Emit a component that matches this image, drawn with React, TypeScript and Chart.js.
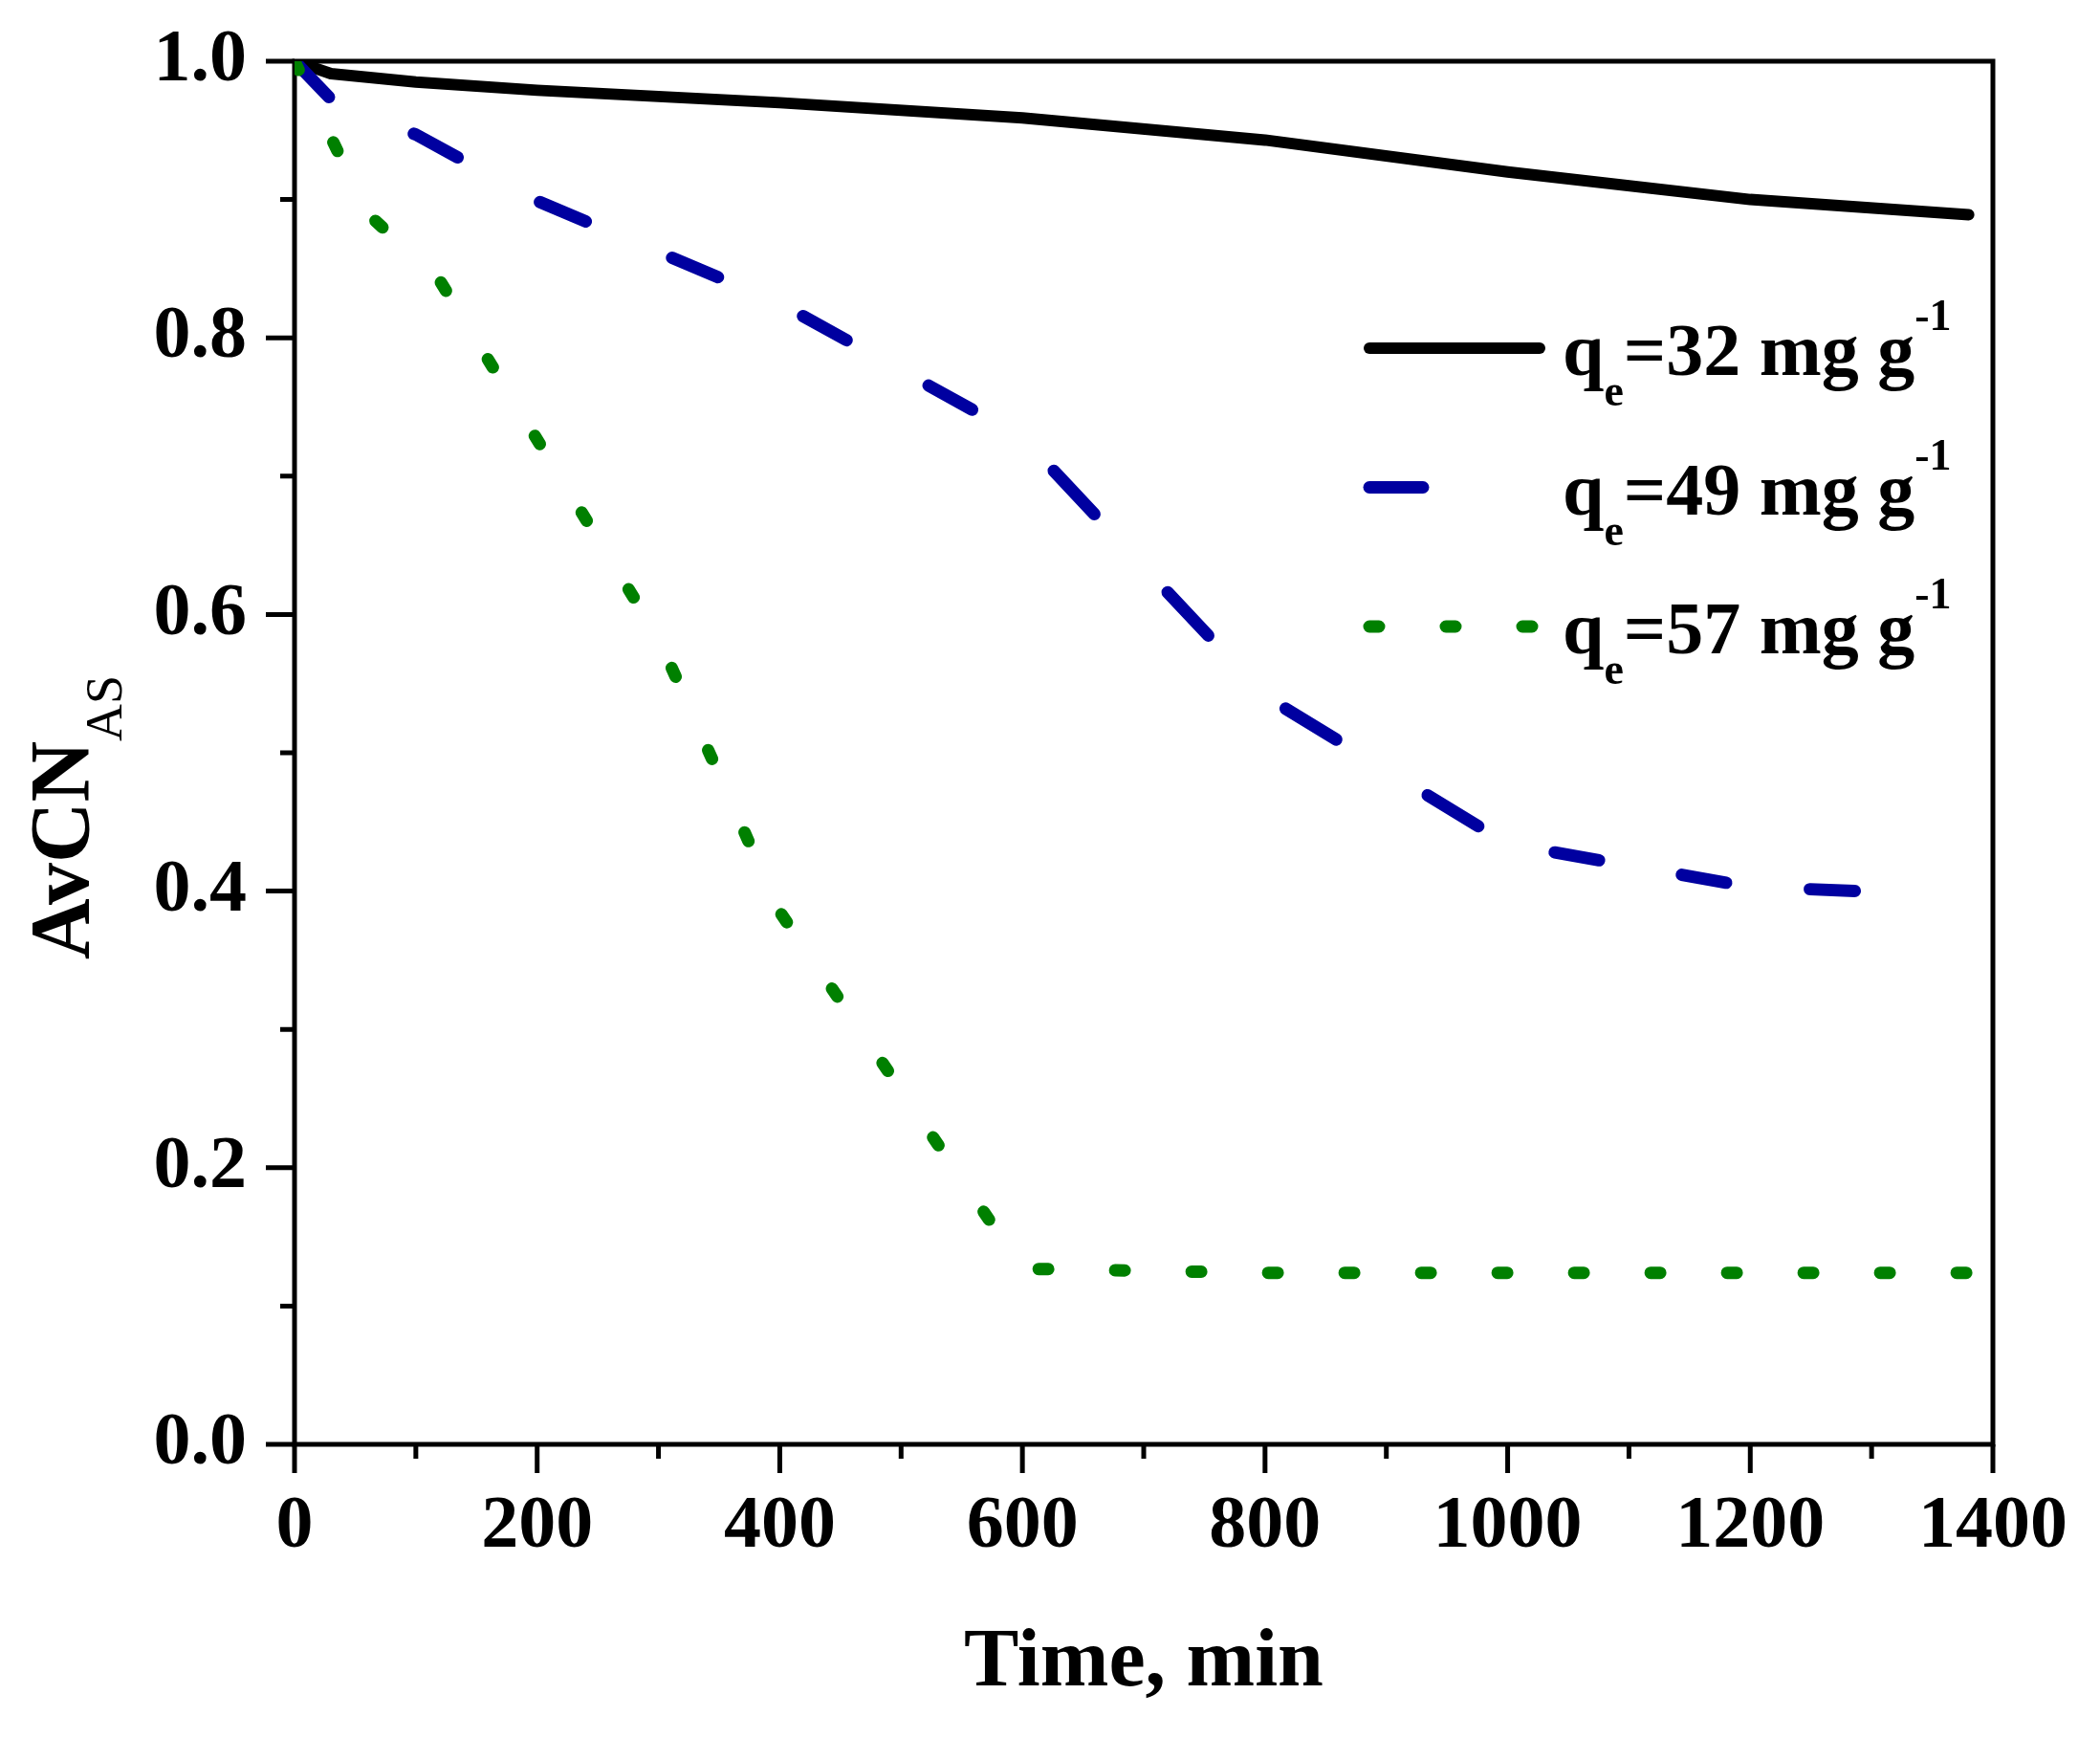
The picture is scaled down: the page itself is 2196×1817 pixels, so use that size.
import { useEffect, useRef } from "react";
import { Chart, registerables } from "chart.js";

Chart.register(...registerables);

// time, min
const blackTime = [0, 30, 100, 200, 400, 600, 800, 1000, 1200, 1380];
const blackValue = [1.0, 0.991, 0.985, 0.979, 0.97, 0.959, 0.943, 0.92, 0.9, 0.889];

const blueTime = [0, 36, 100, 200, 400, 600, 800, 1000, 1200, 1290];
const blueValue = [1.0, 0.967, 0.947, 0.899, 0.825, 0.728, 0.541, 0.434, 0.403, 0.4];

const greenTime = [0, 60, 120, 300, 400, 600, 800, 1000, 1200, 1380];
const greenValue = [1.0, 0.89, 0.841, 0.583, 0.385, 0.127, 0.124, 0.124, 0.124, 0.124];

const seriesNames = ["32", "49", "57"]; // q_e, mg g-1

const xMajor = [0, 200, 400, 600, 800, 1000, 1200, 1400];
const xMinor = [100, 300, 500, 700, 900, 1100, 1300];
const yMajor = [0, 0.2, 0.4, 0.6, 0.8, 1.0];
const yMinor = [0.1, 0.3, 0.5, 0.7, 0.9];

const FONT = '"Liberation Serif", "Times New Roman", serif';
const BLACK = "#000000";
const BLUE = "#0000A0";
const GREEN = "#008000";

const toPoints = (xs: number[], ys: number[]) => xs.map((x, i) => ({ x, y: ys[i] }));

// the original figure was stretched, so its dash spacing changes along the curve
const blueDash = (x: number) =>
  x < 600 ? { dash: [52, 98], offset: 0 } : x < 1000 ? { dash: [62, 112], offset: 126 } : { dash: [47, 88], offset: 85 };
const greenDash = (x: number) => (x < 600 ? { dash: [10, 84], offset: 0 } : { dash: [10, 70], offset: 63 });

// frame and tick marks, under the data lines
const framePlugin = {
  id: "frame",
  beforeDatasetsDraw(chart: any) {
    const { ctx, chartArea: a, scales } = chart;
    const xs = scales.x;
    const ys = scales.y;
    ctx.save();
    ctx.strokeStyle = "#000";
    ctx.lineWidth = 5;
    ctx.lineCap = "butt";
    ctx.strokeRect(a.left, a.top, a.right - a.left, a.bottom - a.top);
    ctx.beginPath();
    xMajor.forEach((v) => {
      const px = xs.getPixelForValue(v);
      ctx.moveTo(px, a.bottom);
      ctx.lineTo(px, a.bottom + 30);
    });
    xMinor.forEach((v) => {
      const px = xs.getPixelForValue(v);
      ctx.moveTo(px, a.bottom);
      ctx.lineTo(px, a.bottom + 15);
    });
    yMajor.forEach((v) => {
      const py = ys.getPixelForValue(v);
      ctx.moveTo(a.left, py);
      ctx.lineTo(a.left - 30, py);
    });
    yMinor.forEach((v) => {
      const py = ys.getPixelForValue(v);
      ctx.moveTo(a.left, py);
      ctx.lineTo(a.left - 15, py);
    });
    ctx.stroke();
    ctx.restore();
  },
};

type Part = { text: string; size: number; weight: string; dy: number };

const drawParts = (ctx: CanvasRenderingContext2D, x: number, y: number, parts: Part[]) => {
  let cx = x;
  parts.forEach((p) => {
    ctx.font = `${p.weight} ${p.size}px ${FONT}`;
    ctx.fillText(p.text, cx, y + p.dy);
    cx += ctx.measureText(p.text).width;
  });
};

// legend with sub/superscripts and the rotated y title
const textPlugin = {
  id: "richText",
  afterDraw(chart: any) {
    const { ctx } = chart;
    ctx.save();
    ctx.fillStyle = "#000";
    ctx.textBaseline = "alphabetic";
    ctx.textAlign = "left";

    const legendDash = [[], [56, 400], [10, 70]];
    const rowY = [364, 509.5, 655];
    chart.data.datasets.forEach((ds: any, i: number) => {
      const y = rowY[i];
      ctx.save();
      ctx.strokeStyle = ds.borderColor;
      ctx.lineWidth = ds.borderWidth;
      ctx.lineCap = "round";
      ctx.setLineDash(legendDash[i]);
      ctx.beginPath();
      ctx.moveTo(1432, y);
      ctx.lineTo(1610, y);
      ctx.stroke();
      ctx.restore();
      drawParts(ctx, 1634, y + 28, [
        { text: "q", size: 78, weight: "bold", dy: 0 },
        { text: "e", size: 46, weight: "bold", dy: 32 },
        { text: `=${seriesNames[i]} mg g`, size: 78, weight: "bold", dy: 0 },
        { text: "-1", size: 46, weight: "bold", dy: -47 },
      ]);
    });

    ctx.translate(92, 1003);
    ctx.rotate(-Math.PI / 2);
    drawParts(ctx, 0, 0, [
      { text: "AvCN", size: 88, weight: "bold", dy: 0 },
      { text: "AS", size: 54, weight: "normal", dy: 35 },
    ]);
    ctx.restore();
  },
};

const noPadding = (scale: any) => {
  scale.paddingTop = 0;
  scale.paddingBottom = 0;
  scale.paddingLeft = 0;
  scale.paddingRight = 0;
};

const App = () => {
  const canvasRef = useRef<HTMLCanvasElement>(null);
  const chartRef = useRef<Chart | null>(null);

  useEffect(() => {
    if (!canvasRef.current) return;
    if (chartRef.current) chartRef.current.destroy();

    const common = {
      pointRadius: 0,
      borderCapStyle: "round" as const,
      borderJoinStyle: "round" as const,
      fill: false,
      tension: 0,
    };

    chartRef.current = new Chart(canvasRef.current, {
      type: "line",
      data: {
        datasets: [
          {
            ...common,
            label: "qe=32 mg g-1",
            data: toPoints(blackTime, blackValue),
            borderColor: BLACK,
            borderWidth: 12,
            order: 3,
          },
          {
            ...common,
            label: "qe=49 mg g-1",
            data: toPoints(blueTime, blueValue),
            borderColor: BLUE,
            borderWidth: 13,
            borderDash: [52, 98],
            segment: {
              borderDash: (c: any) => blueDash(c.p0.parsed.x).dash,
              borderDashOffset: (c: any) => blueDash(c.p0.parsed.x).offset,
            },
            order: 2,
          },
          {
            ...common,
            label: "qe=57 mg g-1",
            data: toPoints(greenTime, greenValue),
            borderColor: GREEN,
            borderWidth: 13,
            borderDash: [10, 84],
            segment: {
              borderDash: (c: any) => greenDash(c.p0.parsed.x).dash,
              borderDashOffset: (c: any) => greenDash(c.p0.parsed.x).offset,
            },
            order: 1,
          },
        ],
      },
      options: {
        responsive: false,
        animation: false,
        devicePixelRatio: 1,
        events: [],
        layout: { padding: { top: 64, right: 112, bottom: 0, left: 0 } },
        plugins: {
          legend: { display: false },
          tooltip: { enabled: false },
        },
        scales: {
          x: {
            type: "linear",
            min: 0,
            max: 1400,
            grid: { display: false, drawTicks: false },
            border: { display: false },
            ticks: {
              stepSize: 200,
              autoSkip: false,
              maxRotation: 0,
              padding: 40,
              color: "#000",
              font: { family: FONT, size: 78, weight: "bold" },
              callback: (v: any) => String(v),
            },
            title: {
              display: true,
              text: "Time, min",
              color: "#000",
              font: { family: FONT, size: 86, weight: "bold" },
              padding: { top: 0, bottom: 26 },
            },
            afterFit: (scale: any) => {
              scale.height = 307;
              noPadding(scale);
            },
          },
          y: {
            type: "linear",
            min: 0,
            max: 1,
            grid: { display: false, drawTicks: false },
            border: { display: false },
            ticks: {
              stepSize: 0.2,
              autoSkip: false,
              padding: 50,
              color: "#000",
              font: { family: FONT, size: 78, weight: "bold" },
              callback: (v: any) => Number(v).toFixed(1),
            },
            afterFit: (scale: any) => {
              scale.width = 308;
              noPadding(scale);
            },
          },
        },
      },
      plugins: [framePlugin, textPlugin],
    });

    return () => {
      if (chartRef.current) {
        chartRef.current.destroy();
        chartRef.current = null;
      }
    };
  }, []);

  return (
    <div style={{ position: "fixed", left: 0, top: 0, width: 2196, height: 1817, background: "#fff" }}>
      <canvas ref={canvasRef} width={2196} height={1817} />
    </div>
  );
};

export default App;
